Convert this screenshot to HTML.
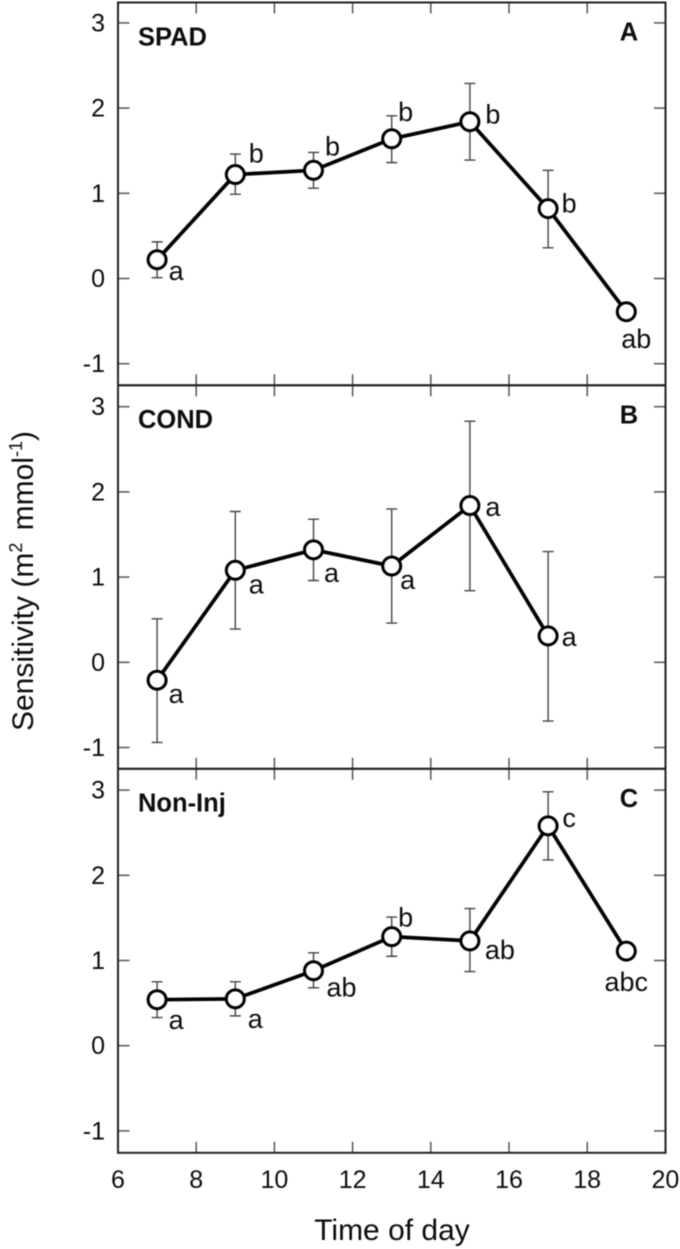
<!DOCTYPE html>
<html>
<head>
<meta charset="utf-8">
<title>Sensitivity by time of day</title>
<style>
html,body{margin:0;padding:0;background:#fff;}
svg{display:block;filter:blur(0.5px);}
text{font-family:"Liberation Sans",sans-serif;fill:#0d0d0d;}
</style>
</head>
<body>
<svg id="chart" xmlns="http://www.w3.org/2000/svg" width="680" height="1249" viewBox="0 0 680 1249">
<text transform="translate(33,581) rotate(-90)" text-anchor="middle" font-size="30">Sensitivity (m<tspan font-size="18" dy="-11">2</tspan><tspan dx="4" dy="11"> mmol</tspan><tspan font-size="18" dy="-11">-1</tspan><tspan dy="11">)</tspan></text>
<text x="392" y="1240" text-anchor="middle" font-size="30">Time of day</text>
</svg>
<script>
const times = [7, 9, 11, 13, 15, 17, 19];
const xTickLabels = [6, 8, 10, 12, 14, 16, 18, 20];
const yTickLabels = [-1, 0, 1, 2, 3];

const spadMean = [0.22, 1.22, 1.27, 1.64, 1.84, 0.82, -0.39];
const spadUpper = [0.43, 1.46, 1.48, 1.91, 2.29, 1.27, null];
const spadLower = [0.01, 0.99, 1.06, 1.36, 1.39, 0.36, null];
const spadLetters = ['a', 'b', 'b', 'b', 'b', 'b', 'ab'];
const spadSpots = ['se', 'ne', 'ne2', 'ne3', 'e', 'e2', 's'];

const condMean = [-0.21, 1.08, 1.32, 1.13, 1.84, 0.31];
const condUpper = [0.51, 1.77, 1.68, 1.80, 2.83, 1.30];
const condLower = [-0.94, 0.39, 0.96, 0.46, 0.84, -0.69];
const condLetters = ['a', 'a', 'a', 'a', 'a', 'a'];
const condSpots = ['se2', 'se3', 'se4', 'se5', 'e3', 'e4'];

const noninjMean = [0.54, 0.55, 0.88, 1.28, 1.23, 2.58, 1.11];
const noninjUpper = [0.75, 0.75, 1.09, 1.51, 1.61, 2.98, null];
const noninjLower = [0.33, 0.35, 0.68, 1.05, 0.87, 2.18, null];
const noninjLetters = ['a', 'a', 'ab', 'b', 'ab', 'c', 'abc'];
const noninjSpots = ['se6', 'se7', 'se8', 'ne4', 'e5', 'e6', 's2'];

const svg = document.getElementById('chart');
const NS = 'http://www.w3.org/2000/svg';

function xAxis(v) { return 118 + (v - 6) * 39.1; }

function mk(tag, attrs, parent) {
  const el = document.createElementNS(NS, tag);
  for (const k in attrs) el.setAttribute(k, attrs[k]);
  parent.appendChild(el);
  return el;
}

function spotOffset(code) {
  const spots = {
    se: [19, 20], se2: [19, 23], se3: [21, 23], se4: [18, 32], se5: [16, 23],
    se6: [19, 29.5], se7: [20, 29], se8: [28, 26],
    ne: [21, -12], ne2: [19, -15], ne3: [14, -18], ne4: [14, -10],
    e: [23, 2], e2: [21, 4], e3: [23, 10.5], e4: [21, 10], e5: [30, 18], e6: [21, 1],
    s: [10, 36.5], s2: [0, 40]
  };
  return spots[code];
}

function drawPanel(cfg) {
  const yAxis = v => cfg.zeroY - v * 85.2;
  const g = mk('g', {}, svg);
  
  

  xTickLabels.slice(1, -1).forEach(t => {
    const x = xAxis(t);
    const top = mk('line', { x1: x, x2: x, y1: cfg.top, y2: cfg.top + 11, stroke: '#555', 'stroke-width': 1.5 }, g);
    
    
    const bot = mk('line', { x1: x, x2: x, y1: cfg.bottom, y2: cfg.bottom - 11, stroke: '#555', 'stroke-width': 1.5 }, g);
    
    
  });

  yTickLabels.forEach(t => {
    const y = yAxis(t);
    const l = mk('line', { x1: 118, x2: 129.5, y1: y, y2: y, stroke: '#555', 'stroke-width': 1.5 }, g);
    
    
    const r = mk('line', { x1: 654, x2: 665.5, y1: y, y2: y, stroke: '#555', 'stroke-width': 1.5 }, g);
    
    
    const lab = mk('text', { x: 105, y: y + 8.5, 'text-anchor': 'end', 'font-size': 25 }, g);
    lab.textContent = t;
    
    
  });

  const frame = mk('rect', { x: 118, y: cfg.top, width: 547.5, height: cfg.bottom - cfg.top, fill: 'none', stroke: '#222', 'stroke-width': 2 }, g);
  
  

  const xs = cfg.mean.map((_, i) => xAxis(times[i]));

  cfg.mean.forEach((_, i) => {
    if (cfg.upper[i] === null) return;
    const x = xs[i], yu = yAxis(cfg.upper[i]), yl = yAxis(cfg.lower[i]);
    const err = mk('path', {
      d: 'M' + x + ' ' + yu + 'V' + yl + 'M' + (x - 5.5) + ' ' + yu + 'h11M' + (x - 5.5) + ' ' + yl + 'h11',
      fill: 'none', stroke: '#444', 'stroke-width': 1.4
    }, g);
    
    
  });

  const line = mk('polyline', {
    points: cfg.mean.map((v, i) => xs[i] + ',' + yAxis(v)).join(' '),
    fill: 'none', stroke: '#000', 'stroke-width': 3.7, 'stroke-linejoin': 'round'
  }, g);
  
  

  cfg.mean.forEach((v, i) => {
    const c = mk('circle', { cx: xs[i], cy: yAxis(v), r: 9, fill: '#fff', stroke: '#000', 'stroke-width': 3 }, g);
    
    
    const off = spotOffset(cfg.spots[i]);
    const t = mk('text', { x: xs[i] + off[0], y: yAxis(v) + off[1], 'text-anchor': 'middle', 'font-size': 27 }, g);
    t.textContent = cfg.letters[i];
    
    
  });

  const title = mk('text', { x: 138, y: cfg.top + 42.8, 'font-size': 25.5, 'font-weight': 'bold', fill: '#000' }, g);
  title.textContent = cfg.title;
  
  

  const letter = mk('text', { x: 629, y: cfg.top + 38, 'text-anchor': 'middle', 'font-size': 25.5, 'font-weight': 'bold', fill: '#000' }, g);
  letter.textContent = cfg.tag;
  
  
}

drawPanel({ name: 'spad', title: 'SPAD', tag: 'A', top: 2.5, bottom: 385.3, zeroY: 278.5,
  mean: spadMean, upper: spadUpper, lower: spadLower, letters: spadLetters, spots: spadSpots });
drawPanel({ name: 'cond', title: 'COND', tag: 'B', top: 385.3, bottom: 768.8, zeroY: 662.3,
  mean: condMean, upper: condUpper, lower: condLower, letters: condLetters, spots: condSpots });
drawPanel({ name: 'non-inj', title: 'Non-Inj', tag: 'C', top: 768.8, bottom: 1152.8, zeroY: 1045.7,
  mean: noninjMean, upper: noninjUpper, lower: noninjLower, letters: noninjLetters, spots: noninjSpots });

xTickLabels.forEach(t => {
  const lab = mk('text', { x: xAxis(t), y: 1188, 'text-anchor': 'middle', 'font-size': 25 }, svg);
  lab.textContent = t;
  
  
});
</script>
</body>
</html>
